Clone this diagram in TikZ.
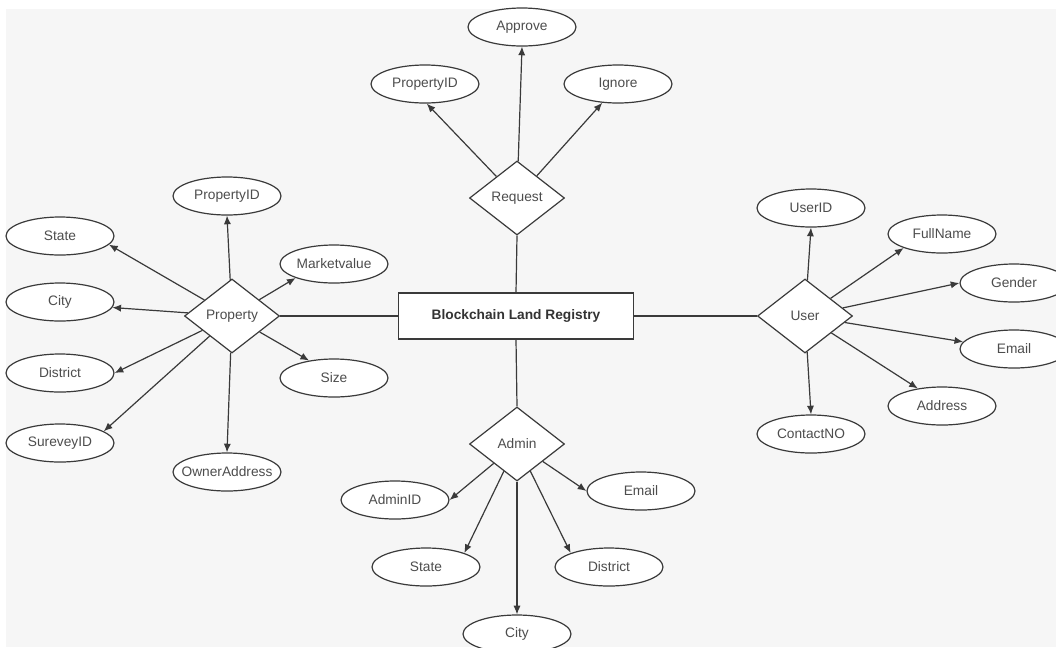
\documentclass[tikz,border=0pt]{standalone}
\usepackage{fontspec}
\setmainfont{Liberation Sans}
\usetikzlibrary{shapes.geometric,arrows.meta}
\definecolor{bgray}{HTML}{F6F6F6}
\definecolor{lineg}{HTML}{3A3A3A}
\definecolor{textg}{HTML}{4D4D4D}
\newcommand{\ztext}[1]{\makebox[0pt]{#1}}
\tikzset{
  attr/.style={ellipse, draw=lineg, line width=0.9pt, fill=white, inner sep=0pt,
    minimum width=81pt, minimum height=28.5pt, text=textg,
    font=\fontsize{10.3}{12}\selectfont},
  rel/.style={diamond, draw=lineg, line width=0.9pt, fill=white, inner sep=0pt,
    minimum width=71.25pt, minimum height=55.5pt, text=textg,
    font=\fontsize{10.3}{12}\selectfont},
  core/.style={rectangle, draw=lineg, line width=0.9pt, fill=white, inner sep=0pt,
    minimum width=176.25pt, minimum height=34.5pt, text=black!80,
    font=\fontsize{10.3}{12}\selectfont\bfseries},
  arr/.style={draw=lineg, line width=0.9pt, -{Latex[length=6.5pt,width=5.4pt]}},
  link/.style={draw=lineg, line width=0.9pt}
}
\begin{document}
\begin{tikzpicture}[x=0.75pt,y=-0.75pt]
\useasboundingbox (0,0) rectangle (1056,647);
\clip (0,0) rectangle (1056,647);
\fill[white] (0,0) rectangle (1056,647);
\fill[bgray] (6,9) rectangle (1056,647);

% central
\node[core] (bc) at (516,316) {Blockchain Land Registry};

% relationships
\node[rel] (prop) at (232,316) {\ztext{Property}};
\node[rel] (req) at (517,198) {\ztext{Request}};
\node[rel] (user) at (805,316) {\ztext{User}};
\node[rel] (admin) at (517,444) {\ztext{Admin}};

% Request attributes
\node[attr] (rpid) at (425,84) {\ztext{PropertyID}};
\node[attr] (approve) at (522,27) {\ztext{Approve}};
\node[attr] (ignore) at (618,84) {\ztext{Ignore}};

% Property attributes
\node[attr] (ppid) at (227,196) {\ztext{PropertyID}};
\node[attr] (pstate) at (60,236) {\ztext{State}};
\node[attr] (pcity) at (60,302) {\ztext{City}};
\node[attr] (pdist) at (60,373) {\ztext{District}};
\node[attr] (psurv) at (60,443) {\ztext{SureveyID}};
\node[attr] (powner) at (227,472) {\ztext{OwnerAddress}};
\node[attr] (pmarket) at (334,264) {\ztext{Marketvalue}};
\node[attr] (psize) at (334,378) {\ztext{Size}};

% User attributes
\node[attr] (uid) at (811,208) {\ztext{UserID}};
\node[attr] (uname) at (942,234) {\ztext{FullName}};
\node[attr] (ugender) at (1014,283) {\ztext{Gender}};
\node[attr] (uemail) at (1014,349) {\ztext{Email}};
\node[attr] (uaddr) at (942,406) {\ztext{Address}};
\node[attr] (ucontact) at (811,434) {\ztext{ContactNO}};

% Admin attributes
\node[attr] (aid) at (395,500) {\ztext{AdminID}};
\node[attr] (aemail) at (641,491) {\ztext{Email}};
\node[attr] (astate) at (426,567) {\ztext{State}};
\node[attr] (adist) at (609,567) {\ztext{District}};
\node[attr] (acity) at (517,634) {\ztext{City}};

% links to central box
\draw[link] (prop.east) -- (bc.west);
\draw[link] (user.west) -- (bc.east);
\draw[link] (req.south) -- (bc.north);
\draw[link] (admin.north) -- (bc.south);

% Request arrows
\draw[arr] (req) -- (rpid.-85);
\draw[arr] (req) -- (approve.south);
\draw[arr] (req) -- (ignore.230);

% Property arrows
\draw[arr] (prop) -- (ppid.south);
\draw[arr] (prop) -- (pstate.-10);
\draw[arr] (prop) -- (pcity.-6);
\draw[arr] (prop) -- (pdist.east);
\draw[arr] (prop) -- (psurv.15);
\draw[arr] (prop) -- (powner.north);
\draw[arr] (prop) -- (pmarket.200);
\draw[arr] (prop) -- (psize.145);

% User arrows
\draw[arr] (user) -- (uid.south);
\draw[arr] (user) -- (uname.200);
\draw[arr] (user) -- (ugender.west);
\draw[arr] (user) -- (uemail.172);
\draw[arr] (user) -- (uaddr.144);
\draw[arr] (user) -- (ucontact.north);

% Admin arrows
\draw[arr] (admin) -- (aid.east);
\draw[arr] (admin) -- (aemail.west);
\draw[arr] (admin) -- (astate.20);
\draw[arr] (admin) -- (acity.north);
\draw[arr] (admin) -- (adist.160);
\end{tikzpicture}
\end{document}
